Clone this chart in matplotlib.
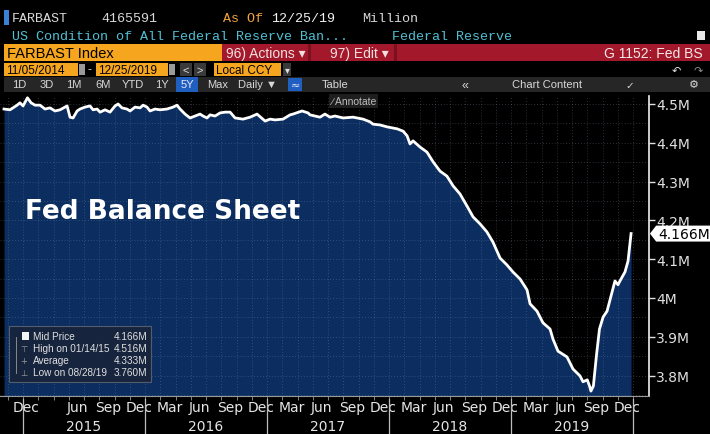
import matplotlib
matplotlib.use('Agg')
import matplotlib.pyplot as plt
from matplotlib.patches import Rectangle, Polygon
from matplotlib.transforms import blended_transform_factory, ScaledTranslation

# FARBAST readings (decimal year, trillions of USD shown as "M")
years = [2014.844, 2014.893, 2014.951, 2014.975, 2015.000, 2015.036, 2015.066, 2015.098,
         2015.139, 2015.180, 2015.221, 2015.262, 2015.303, 2015.361, 2015.385, 2015.410,
         2015.443, 2015.467, 2015.508, 2015.549, 2015.574, 2015.607, 2015.631, 2015.672,
         2015.713, 2015.754, 2015.779, 2015.811, 2015.852, 2015.877, 2015.918, 2015.959,
         2015.984, 2016.016, 2016.041, 2016.082, 2016.123, 2016.180, 2016.230, 2016.262,
         2016.287, 2016.328, 2016.369, 2016.410, 2016.451, 2016.475, 2016.508, 2016.533,
         2016.574, 2016.615, 2016.656, 2016.697, 2016.738, 2016.803, 2016.861, 2016.918,
         2016.984, 2017.025, 2017.066, 2017.131, 2017.189, 2017.213, 2017.287, 2017.336,
         2017.352, 2017.434, 2017.475, 2017.516, 2017.557, 2017.623, 2017.705, 2017.787,
         2017.844, 2017.869, 2017.926, 2017.984, 2018.066, 2018.115, 2018.148, 2018.172,
         2018.197, 2018.254, 2018.311, 2018.361, 2018.418, 2018.475, 2018.525, 2018.582,
         2018.639, 2018.689, 2018.746, 2018.803, 2018.852, 2018.910, 2018.967, 2019.016,
         2019.074, 2019.131, 2019.156, 2019.213, 2019.262, 2019.320, 2019.344, 2019.385,
         2019.459, 2019.508, 2019.566, 2019.590, 2019.625, 2019.645, 2019.655, 2019.675,
         2019.700, 2019.725, 2019.755, 2019.787, 2019.828, 2019.852, 2019.877, 2019.893,
         2019.934, 2019.959, 2019.984]
values = [4.487, 4.485, 4.497, 4.503, 4.495, 4.516, 4.503, 4.497,
          4.497, 4.487, 4.490, 4.482, 4.485, 4.495, 4.466, 4.464,
          4.482, 4.487, 4.492, 4.495, 4.485, 4.487, 4.479, 4.485,
          4.479, 4.495, 4.500, 4.490, 4.487, 4.482, 4.492, 4.490,
          4.497, 4.492, 4.482, 4.487, 4.485, 4.487, 4.492, 4.497,
          4.487, 4.474, 4.464, 4.469, 4.474, 4.469, 4.464, 4.472,
          4.469, 4.477, 4.479, 4.479, 4.464, 4.461, 4.466, 4.474,
          4.456, 4.461, 4.459, 4.461, 4.472, 4.474, 4.482, 4.477,
          4.472, 4.466, 4.474, 4.466, 4.469, 4.464, 4.466, 4.461,
          4.454, 4.448, 4.446, 4.441, 4.436, 4.430, 4.418, 4.397,
          4.405, 4.389, 4.376, 4.351, 4.327, 4.314, 4.289, 4.268,
          4.237, 4.209, 4.191, 4.170, 4.144, 4.103, 4.085, 4.067,
          4.049, 4.021, 3.985, 3.966, 3.936, 3.920, 3.894, 3.863,
          3.848, 3.817, 3.799, 3.784, 3.789, 3.772, 3.760, 3.773,
          3.851, 3.920, 3.951, 3.966, 4.015, 4.044, 4.034, 4.044,
          4.067, 4.095, 4.166]

ytick_vals = [3.8, 3.9, 4.0, 4.1, 4.2, 4.3, 4.4, 4.5]
ytick_labels = ['3.8M', '3.9M', '4M', '4.1M', '4.2M', '4.3M', '4.4M', '4.5M']
month_labels = ['Dec', 'Jun', 'Sep', 'Dec'] + ['Mar', 'Jun', 'Sep', 'Dec'] * 4
month_pos = [2014 + 11/12, 2015 + 5/12, 2015 + 8/12, 2015 + 11/12]
for yr in [2016, 2017, 2018, 2019]:
    month_pos += [yr + 2/12, yr + 5/12, yr + 8/12, yr + 11/12]
year_labels = ['2015', '2016', '2017', '2018', '2019']

stat_names = ['Mid Price', 'High on 01/14/15', 'Average', 'Low on 08/28/19']
stat_values = ['4.166M', '4.516M', '4.333M', '3.760M']

W, H = 710, 435
fig = plt.figure(figsize=(W/100, H/100), dpi=100, facecolor='black')

def fx(x):
    return x / W

def fy(y):
    return 1 - y / H

def box(x0, y0, x1, y1, color, z=0):
    r = Rectangle((fx(x0), fy(y1)), (x1 - x0)/W, (y1 - y0)/H,
                  transform=fig.transFigure, facecolor=color, edgecolor='none', zorder=z)
    fig.patches.append(r)
    return r

def txt(x, y, s, **kw):
    kw.setdefault('va', 'center')
    fig.text(fx(x), fy(y), s, **kw)

mono = ['Liberation Mono', 'DejaVu Sans Mono']
narrow = ['Liberation Sans Narrow', 'Liberation Sans', 'DejaVu Sans']

# ---- header rows ----
box(4, 11, 9, 26, '#3b82d6')
txt(12, 19, 'FARBAST', color='#d8d8d8', fontsize=9.6, family=mono)
txt(101, 19, '4165591', color='#d8d8d8', fontsize=9.6, family=mono)
txt(223, 19, 'As Of', color='#f0a040', fontsize=9.6, family=mono)
txt(271, 19, '12/25/19', color='#f2f2f2', fontsize=9.6, family=mono)
txt(362, 19, 'Million', color='#d8d8d8', fontsize=9.6, family=mono)
txt(12, 37, 'US Condition of All Federal Reserve Ban...', color='#4fc0d4', fontsize=9.6, family=mono)
txt(392, 37, 'Federal Reserve', color='#4fc0d4', fontsize=9.6, family=mono)
box(697, 32, 705, 41, '#e8e8e8')

box(4, 45, 222, 62, '#f6a61e')
box(222, 45, 710, 62, '#a3182a')
box(308, 45, 311, 62, '#7a1020')
box(394, 45, 397, 62, '#7a1020')
txt(7, 54, 'FARBAST Index', color='black', fontsize=10.5, family=narrow)
txt(226, 54, '96) Actions \u25be', color='#f0e0e0', fontsize=10, family=narrow)
txt(330, 54, '97) Edit \u25be', color='#f0e0e0', fontsize=10, family=narrow)
txt(703, 54, 'G 1152: Fed BS', color='#f4e8e8', fontsize=10, family=narrow, ha='right')

box(4, 64, 78, 77, '#f6a61e')
box(79, 65, 85, 76, '#9a9a9a')
txt(88, 70, '-', color='#d0d0d0', fontsize=9, family=narrow)
box(96, 64, 168, 77, '#f6a61e')
box(169, 65, 175, 76, '#9a9a9a')
box(180, 64, 192, 77, '#3a3a3a')
box(194, 64, 206, 77, '#3a3a3a')
box(214, 64, 281, 77, '#f6a61e')
box(283, 64, 291, 77, '#3a3a3a')
txt(6, 70.5, '11/05/2014', color='black', fontsize=8.5, family=narrow)
txt(98, 70.5, '12/25/2019', color='black', fontsize=8.5, family=narrow)
txt(186, 70.5, '<', color='#e0e0e0', fontsize=8, family=narrow, ha='center')
txt(200, 70.5, '>', color='#e0e0e0', fontsize=8, family=narrow, ha='center')
txt(216, 70.5, 'Local CCY', color='black', fontsize=8.5, family=narrow)
txt(287, 70.5, '\u25be', color='#e0e0e0', fontsize=7, ha='center')
txt(672, 70.5, '\u21b6', color='#e0e0e0', fontsize=8)
txt(694, 70.5, '\u21b7', color='#8a8a8a', fontsize=8)

box(4, 78, 710, 93, '#262626')
for lbl, x in [('1D', 12), ('3D', 40), ('1M', 66), ('6M', 95), ('YTD', 122), ('1Y', 155),
               ('Max', 207), ('Daily \u25bc', 238), ('Table', 322)]:
    txt(x, 85.5, lbl, color='#d8d8d8', fontsize=8, family=narrow)
box(176, 78, 198, 93, '#1f5fc0')
txt(181, 85.5, '5Y', color='#e8e8ff', fontsize=8, family=narrow)
box(288, 79, 302, 92, '#1f5fc0')
txt(291, 85.5, '\u2248', color='#e8e8ff', fontsize=8)
txt(462, 85.5, '\u00ab', color='#d8d8d8', fontsize=9, family=narrow)
txt(512, 85.5, 'Chart Content', color='#d8d8d8', fontsize=8, family=narrow)
txt(625, 85.5, '\u2713', color='#d8d8d8', fontsize=7.5)
txt(689, 85.5, '\u2699', color='#d8d8d8', fontsize=8)

# ---- main chart ----
ax = fig.add_axes([0, 1 - 397/H, 649/W, 300/H])
ax.set_facecolor('black')
ybot, ytop = 3.7474, 4.5206
ax.set_xlim(2014.811, 2020.131)
ax.set_ylim(ybot, ytop)

ax.fill_between(years, values, ybot, color='#0b2d60', zorder=1, lw=0)
for v in [3.75 + 0.05 * i for i in range(16)]:
    ax.axhline(v, color='#7f8fa8', alpha=0.45, lw=0.6, ls=(0, (1, 2.5)), zorder=2)
grid_x = [2015 + i / 8 for i in range(-1, 41)]
for g in grid_x:
    ax.axvline(g, color='#7f8fa8', alpha=0.45, lw=0.6, ls=(0, (1, 2.5)), zorder=2)
ax.plot(years, values, color='white', lw=2, zorder=3, solid_joinstyle='round')

for s in ['top', 'left']:
    ax.spines[s].set_visible(False)
ax.spines['right'].set_color('#f0f0f0')
ax.spines['right'].set_linewidth(1.2)
ax.spines['bottom'].set_color('#9a9a9a')
ax.spines['bottom'].set_linewidth(0.8)

ax.yaxis.tick_right()
ax.set_yticks(ytick_vals, ytick_labels)
ax.tick_params(axis='y', colors='#e0e0e0', labelsize=10, length=4, width=1, pad=1)

ax.set_xticks(month_pos, month_labels)
ax.set_xticks(grid_x, minor=True)
ax.tick_params(axis='x', which='major', length=0, pad=3, labelsize=10, colors='#e6e6e6')
ax.tick_params(axis='x', which='minor', length=3, direction='out', color='#9a9a9a')
for i, lab in enumerate(ax.get_xticklabels()):
    if i == 0:
        lab.set_ha('left')
    else:
        lab.set_ha('center')
        lab.set_transform(lab.get_transform() + ScaledTranslation(0.04, 0, fig.dpi_scale_trans))

trans = blended_transform_factory(ax.transData, ax.transAxes)
for i, yl in enumerate(year_labels):
    ax.text(2015.5 + i, -0.1, yl, transform=trans, ha='center', va='center',
            color='#e6e6e6', fontsize=10)
for yb in range(2015, 2021):
    ax.plot([yb, yb], [-0.01, -0.125], transform=trans, color='#bdbdbd', lw=0.9, clip_on=False)

# last value tag on the right axis
tag = blended_transform_factory(ax.transAxes, ax.transData)
last = values[-1]
hh = 0.0206
ax.add_patch(Polygon([(1.0015, last), (1.011, last + hh), (1.094, last + hh),
                      (1.094, last - hh), (1.011, last - hh)], closed=True,
                     transform=tag, facecolor='white', edgecolor='none', clip_on=False, zorder=5))
ax.text(1.014, last, '4.166M', transform=tag, color='black', fontsize=10, va='center', zorder=6)

ax.text(0.038, 0.615, 'Fed Balance Sheet', transform=ax.transAxes, color='white',
        fontsize=19, fontweight='bold', va='center', zorder=6)

# Annotate button
txt(331, 102, '\u2215 Annotate', color='#bdbdbd', fontsize=7.5, family=narrow,
    bbox=dict(facecolor='#1e1e1e', edgecolor='none', pad=1.5))

# stats legend
lg = box(9, 327, 151, 383, '#17243a', z=4)
lg.set_alpha(0.92)
lg.set_edgecolor('#5a6270')
lg.set_linewidth(0.8)
box(22, 333, 29, 341, '#f4f4f4', z=5)
fig.lines.append(plt.Line2D([fx(16), fx(16)], [fy(338), fy(374)], transform=fig.transFigure,
                            color='#8a8a8a', lw=0.7, zorder=5))
for i, (nm, val) in enumerate(zip(stat_names, stat_values)):
    yy = 337.5 + i * 12
    txt(33, yy, nm, color='#e0e0e0', fontsize=7.2, family=narrow, zorder=6)
    txt(147, yy, val, color='#e0e0e0', fontsize=7.2, family=narrow, ha='right', zorder=6)
    if i > 0:
        txt(24, yy, ['', '\u22a4', '+', '\u22a5'][i], color='#9a9a9a', fontsize=6, ha='center', zorder=6)

fig.savefig('out.png', dpi=100, facecolor='black')
